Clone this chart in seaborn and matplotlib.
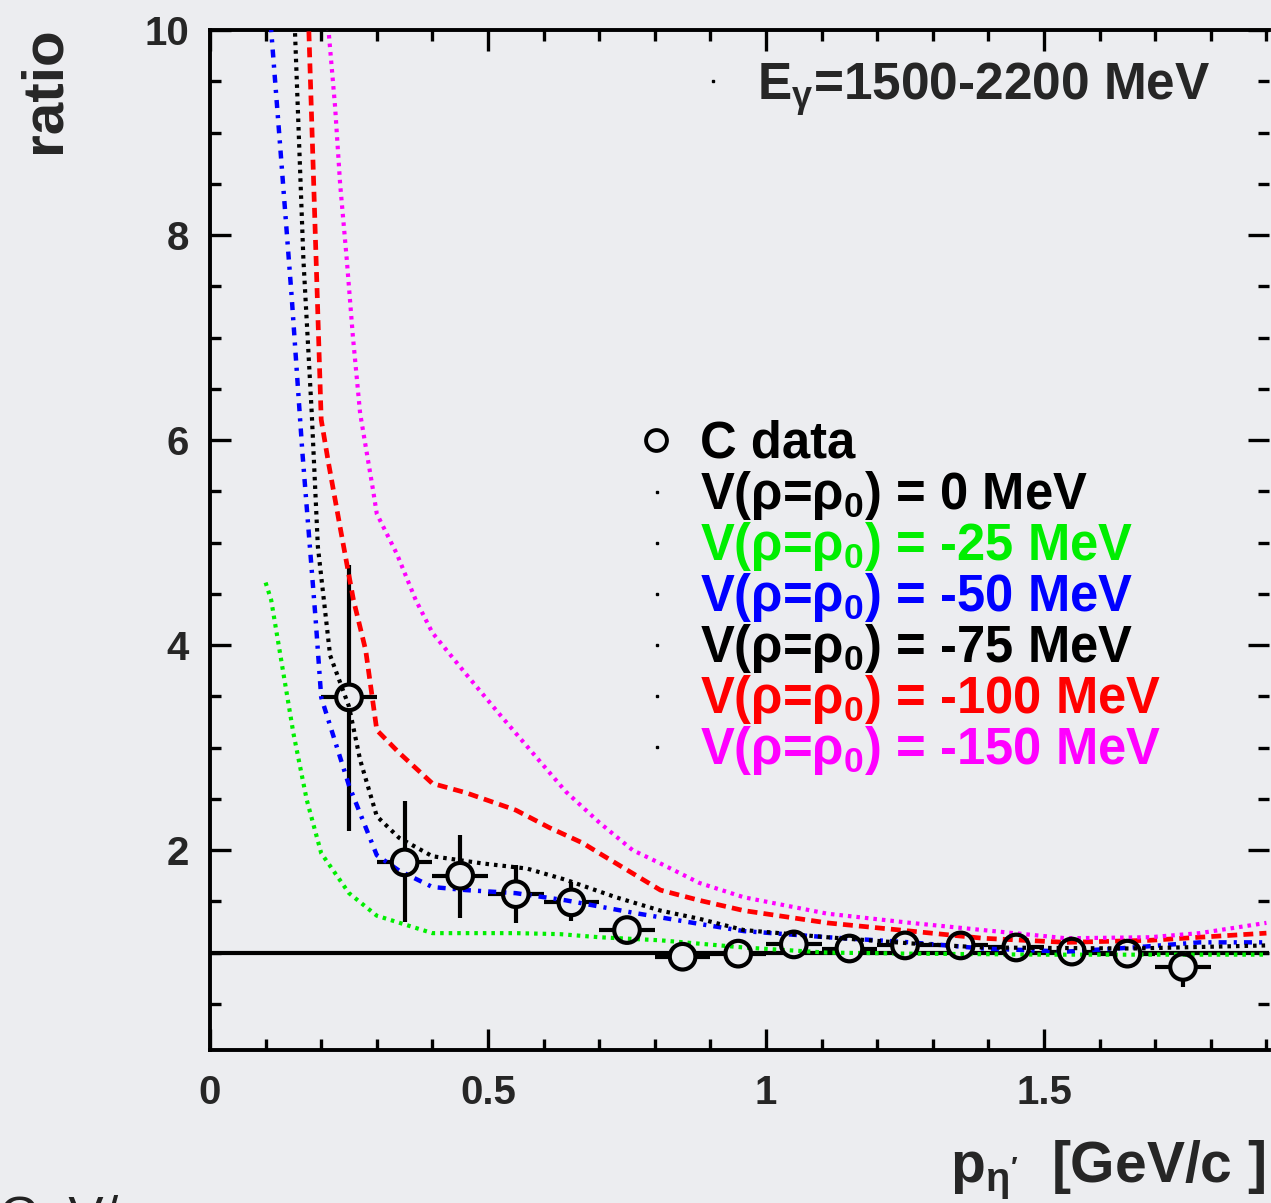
import numpy as np
import pandas as pd
import matplotlib
matplotlib.use("Agg")
import matplotlib.pyplot as plt
from matplotlib.ticker import MultipleLocator, FuncFormatter
import seaborn as sns

# ---------------- data ----------------
p_bins = [0.25, 0.35, 0.45, 0.55, 0.65, 0.75, 0.85, 0.95,
          1.05, 1.15, 1.25, 1.35, 1.45, 1.55, 1.65, 1.75]
ratio_c = [3.49, 1.88, 1.75, 1.57, 1.49, 1.22, 0.96, 0.99,
           1.08, 1.04, 1.07, 1.07, 1.05, 1.01, 0.99, 0.86]
err_lo = [1.30, 0.58, 0.41, 0.28, 0.18, 0.14, 0.08, 0.08,
          0.08, 0.08, 0.08, 0.08, 0.08, 0.08, 0.08, 0.20]
err_hi = [1.29, 0.60, 0.40, 0.28, 0.20, 0.12, 0.08, 0.08,
          0.08, 0.08, 0.08, 0.08, 0.08, 0.08, 0.08, 0.10]
bin_half = [0.05] * 16

ref_level = 1.0  # V(rho=rho0) = 0 MeV

x_m25 = [0.10, 0.11, 0.13, 0.15, 0.174, 0.20, 0.25, 0.30, 0.40, 0.55,
         0.63, 0.70, 0.81, 0.96, 1.11, 1.26, 1.50, 1.90]
y_m25 = [4.61, 4.44, 3.79, 3.14, 2.49, 1.97, 1.58, 1.36, 1.19, 1.19,
         1.18, 1.15, 1.12, 1.05, 1.00, 0.99, 0.98, 0.98]

x_m50 = [0.10, 0.126, 0.147, 0.166, 0.19, 0.20, 0.25, 0.30, 0.34, 0.40,
         0.46, 0.55, 0.64, 0.76, 0.88, 0.96, 1.11, 1.26, 1.39, 1.54,
         1.66, 1.78, 1.90]
y_m50 = [10.7, 8.88, 7.39, 5.89, 4.25, 3.49, 2.63, 1.95, 1.80, 1.64,
         1.61, 1.58, 1.51, 1.39, 1.28, 1.21, 1.15, 1.10, 1.04, 1.01,
         1.05, 1.10, 1.10]

x_m75 = [0.15, 0.168, 0.183, 0.194, 0.216, 0.25, 0.27, 0.30, 0.34, 0.40,
         0.49, 0.57, 0.64, 0.73, 0.81, 0.88, 0.96, 1.11, 1.26, 1.39,
         1.66, 1.90]
y_m75 = [10.4, 7.76, 6.26, 4.96, 3.90, 3.40, 2.88, 2.33, 2.12, 1.94,
         1.87, 1.82, 1.71, 1.54, 1.41, 1.33, 1.22, 1.15, 1.09, 1.05,
         1.04, 1.07]

x_m100 = [0.176, 0.19, 0.20, 0.213, 0.234, 0.258, 0.28, 0.30, 0.34, 0.40,
          0.46, 0.55, 0.61, 0.67, 0.70, 0.81, 0.88, 0.96, 1.11, 1.26,
          1.39, 1.54, 1.69, 1.90]
y_m100 = [10.3, 7.9, 6.2, 5.78, 5.15, 4.44, 3.95, 3.17, 2.95, 2.65,
          2.56, 2.39, 2.22, 2.07, 1.97, 1.61, 1.51, 1.41, 1.29, 1.21,
          1.14, 1.10, 1.12, 1.19]

x_m150 = [0.21, 0.225, 0.234, 0.246, 0.257, 0.27, 0.293, 0.30, 0.336, 0.37,
          0.40, 0.46, 0.52, 0.58, 0.64, 0.70, 0.76, 0.81, 0.88, 0.96,
          1.11, 1.26, 1.39, 1.54, 1.69, 1.78, 1.90]
y_m150 = [10.2, 9.25, 8.5, 7.76, 7.01, 6.26, 5.52, 5.28, 4.89, 4.44,
          4.12, 3.72, 3.33, 2.95, 2.57, 2.27, 2.0, 1.87, 1.68, 1.54,
          1.38, 1.29, 1.22, 1.14, 1.15, 1.19, 1.29]

legend_labels = ["C data",
                 r"V($\mathrm{\rho}$=$\mathrm{\rho}_{\mathbf{0}}$) = 0 MeV",
                 r"V($\mathrm{\rho}$=$\mathrm{\rho}_{\mathbf{0}}$) = -25 MeV",
                 r"V($\mathrm{\rho}$=$\mathrm{\rho}_{\mathbf{0}}$) = -50 MeV",
                 r"V($\mathrm{\rho}$=$\mathrm{\rho}_{\mathbf{0}}$) = -75 MeV",
                 r"V($\mathrm{\rho}$=$\mathrm{\rho}_{\mathbf{0}}$) = -100 MeV",
                 r"V($\mathrm{\rho}$=$\mathrm{\rho}_{\mathbf{0}}$) = -150 MeV"]
legend_colors = ["black", "black", "#00ee00", "#0000ff", "black", "#ff0000", "#ff00ff"]

x_ticks_major = [0, 0.5, 1, 1.5]
y_ticks_major = [2, 4, 6, 8, 10]

# ---------------- style ----------------
BG = "#ecedf0"
sns.set_style("ticks")
plt.rcParams["font.family"] = ["Liberation Sans", "DejaVu Sans"]
plt.rcParams["font.weight"] = "bold"
plt.rcParams["mathtext.fontset"] = "custom"
plt.rcParams["mathtext.rm"] = "Liberation Sans"
plt.rcParams["mathtext.bf"] = "Liberation Sans:bold"
plt.rcParams["mathtext.it"] = "Liberation Sans:italic"
plt.rcParams["mathtext.default"] = "bf"

W, H = 1271, 1203
fig = plt.figure(figsize=(W / 100, H / 100), dpi=100, facecolor=BG)
L, R, T, B = 210, 1269.2, 30, 1050
ax = fig.add_axes([L / W, 1 - B / H, (R - L) / W, (B - T) / H])
ax.set_facecolor(BG)

# reference line (V = 0)
ax.axhline(ref_level, color="black", lw=3.0, zorder=2)

# data error bars
ax.errorbar(p_bins, ratio_c, yerr=[err_lo, err_hi], xerr=bin_half, fmt="none",
            ecolor="black", elinewidth=3.0, capsize=0, zorder=3)
# marker background (hides bars inside circles)
sns.scatterplot(x=p_bins, y=ratio_c, ax=ax, marker="o", s=340, color=BG,
                edgecolor=BG, linewidth=0, zorder=4, legend=False)

curves = [
    (x_m25, y_m25, "#00ee00", (0, (0.85, 1.2)), 3.0),
    (x_m50, y_m50, "#0000ff", (0, (1.8, 1.6, 0.7, 1.6)), 3.2),
    (x_m75, y_m75, "black", (0, (0.85, 1.2)), 3.0),
    (x_m100, y_m100, "#ff0000", (0, (2.1, 1.3)), 3.4),
    (x_m150, y_m150, "#ff00ff", (0, (0.85, 1.2)), 3.0),
]
for xs, ys, col, ls, lw in curves:
    df = pd.DataFrame({"p": xs, "r": ys})
    sns.lineplot(data=df, x="p", y="r", ax=ax, color=col, linewidth=lw,
                 errorbar=None, estimator=None, sort=False, legend=False, zorder=5)
    ln = ax.lines[-1]
    ln.set_linewidth(lw)
    ln.set_linestyle(ls)
    ln.set_dash_capstyle("butt")

# data markers (open circles)
sns.scatterplot(x=p_bins, y=ratio_c, ax=ax, marker="o", s=340, facecolor="none",
                edgecolor="black", linewidth=3.0, zorder=6, legend=False)

# ---------------- axes ----------------
ax.set_xlim(0, 1.905)
ax.set_ylim(0.05, 10)
ax.set_xticks(x_ticks_major)
ax.set_yticks(y_ticks_major)
ax.xaxis.set_minor_locator(MultipleLocator(0.1))
ax.yaxis.set_minor_locator(MultipleLocator(0.5))
ax.xaxis.set_major_formatter(FuncFormatter(lambda v, p: f"{v:g}"))
ax.yaxis.set_major_formatter(FuncFormatter(lambda v, p: f"{v:g}"))
ax.tick_params(which="both", direction="in", top=True, right=True, width=2.4,
               color="black", labelsize=29)
ax.tick_params(which="major", length=15)
ax.tick_params(which="minor", length=8)
ax.tick_params(axis="x", which="major", pad=17)
ax.tick_params(axis="y", which="major", pad=15)
for lab in ax.get_xticklabels() + ax.get_yticklabels():
    lab.set_fontweight("bold")
for s in ["left", "bottom", "top"]:
    ax.spines[s].set_linewidth(2.8)
    ax.spines[s].set_color("black")
ax.spines["right"].set_visible(False)

ax.set_xlabel(r"p$_{\mathrm{\eta}'}$  [GeV/c ]", fontsize=41, fontweight="bold")
ax.xaxis.set_label_coords((1265 - L) / (R - L), (B - 1182) / (B - T))
ax.xaxis.label.set(ha="right", va="baseline")
ax.set_ylabel("ratio", fontsize=42, fontweight="bold")
ax.yaxis.label.set_rotation_mode("default")
ax.yaxis.set_label_coords((44 - L) / (R - L), (B - 26) / (B - T))
ax.yaxis.label.set(ha="center", va="top")

# energy range text
ax.text((757 - L) / (R - L), (B - 100) / (B - T),
        r"E$_{\mathrm{\gamma}}$=1500-2200 MeV", transform=ax.transAxes,
        fontsize=37, fontweight="bold", ha="left", va="baseline")

# legend (ROOT style)
for i, (lab, col) in enumerate(zip(legend_labels, legend_colors)):
    yb = 458 + 51 * i
    ax.text((700 - L) / (R - L), (B - yb) / (B - T), lab, transform=ax.transAxes,
            fontsize=36.5, fontweight="bold", color=col, ha="left", va="baseline")
    if i == 0:
        ax.plot([(656 - L) / (R - L)], [(B - 440) / (B - T)], transform=ax.transAxes,
                marker="o", ms=15, mfc="none", mec="black", mew=2.8, clip_on=False)
    else:
        ax.plot([(657 - L) / (R - L)], [(B - (yb - 17)) / (B - T)], transform=ax.transAxes,
                marker="s", ms=1.5, color="black", clip_on=False)
ax.plot([(713 - L) / (R - L)], [(B - 81) / (B - T)], transform=ax.transAxes,
        marker="s", ms=1.5, color="black", clip_on=False)

# slide text cut off at the bottom edge
fig.text(-2 / W, 1 - 1234 / H, "GeV/c", fontsize=38, fontweight="normal",
         color="#222222", ha="left", va="baseline")

fig.savefig("out.png", dpi=100, facecolor=BG)
